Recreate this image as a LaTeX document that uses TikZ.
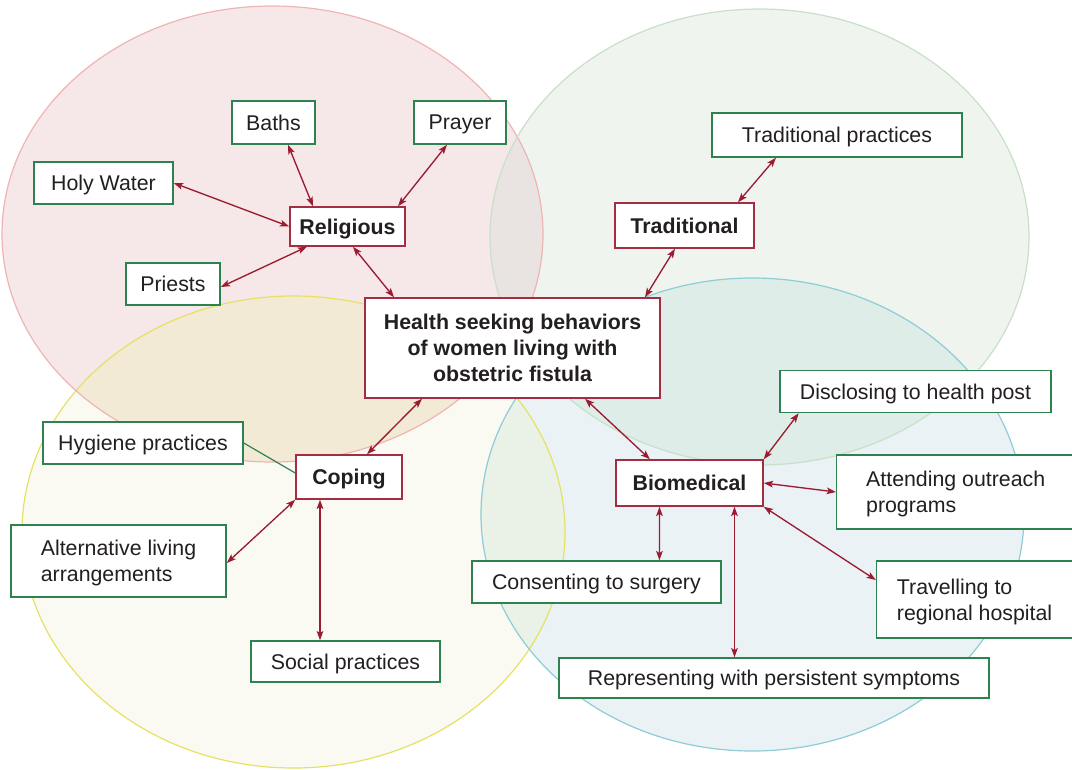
\documentclass[tikz,border=0pt]{standalone}
\usepackage{fontspec}
\setmainfont{Liberation Sans}
\usetikzlibrary{arrows.meta,calc}
\definecolor{txt}{RGB}{35,31,32}
\definecolor{rfill}{HTML}{F6E7E8}
\definecolor{gfill}{HTML}{EFF4EF}
\definecolor{yfill}{HTML}{FAFAF3}
\definecolor{bfill}{HTML}{EAF2F6}
\definecolor{rgfill}{HTML}{E9E4E1}
\definecolor{ryfill}{HTML}{F3EAD6}
\definecolor{gbfill}{HTML}{DEEDE8}
\definecolor{ybfill}{HTML}{EAF1E6}
\definecolor{rline}{HTML}{F0B4B4}
\definecolor{gline}{HTML}{C8E0C8}
\definecolor{yline}{HTML}{E6E164}
\definecolor{bline}{HTML}{8CCDD7}
\definecolor{gbord}{HTML}{2E8250}
\definecolor{rbord}{HTML}{A52D41}
\definecolor{arr}{HTML}{9B1B30}
\begin{document}
\begin{tikzpicture}[x=0.75pt,y=-0.75pt,
  every node/.style={font=\fontsize{16pt}{19.5pt}\selectfont, text=txt},
  box/.style={draw, fill=white, line width=1.1pt, inner sep=0pt, align=center},
  gbox/.style={box, draw=gbord, text depth=0pt},
  rbox/.style={box, draw=rbord, font=\fontsize{16pt}{19.5pt}\selectfont\bfseries},
  wh/.style 2 args={minimum width=#1*0.75pt, minimum height=#2*0.75pt},
  tipx/.tip={Stealth[length=7pt,width=5pt,inset=1.6pt]},
  link/.style={draw=arr, line width=1pt, tipx-tipx},
  plainlink/.style={draw=gbord, line width=0.9pt},
  ring/.style={line width=0.9pt},
]
\useasboundingbox (0,0) rectangle (1072,769);
% circles
\fill[rfill] (272.5,234) ellipse [x radius=270.5, y radius=228];
\fill[gfill] (759.5,237) ellipse [x radius=269.5, y radius=228];
\fill[yfill] (293.5,532) ellipse [x radius=271.5, y radius=236];
\fill[bfill] (752.5,514.5) ellipse [x radius=271.5, y radius=236.5];
\begin{scope}
  \clip (272.5,234) ellipse [x radius=270.5, y radius=228];
  \fill[rgfill] (759.5,237) ellipse [x radius=269.5, y radius=228];
  \fill[ryfill] (293.5,532) ellipse [x radius=271.5, y radius=236];
\end{scope}
\begin{scope}
  \clip (752.5,514.5) ellipse [x radius=271.5, y radius=236.5];
  \fill[gbfill] (759.5,237) ellipse [x radius=269.5, y radius=228];
  \fill[ybfill] (293.5,532) ellipse [x radius=271.5, y radius=236];
\end{scope}
\draw[ring, yline] (293.5,532) ellipse [x radius=271.5, y radius=236];
\draw[ring, bline] (752.5,514.5) ellipse [x radius=271.5, y radius=236.5];
\draw[ring, rline] (272.5,234) ellipse [x radius=270.5, y radius=228];
\draw[ring, gline] (759.5,237) ellipse [x radius=269.5, y radius=228];
% nodes
\node[gbox, wh={83}{43}] (baths) at (273.5,122.5) {Baths};
\node[gbox, wh={92}{43}] (prayer) at (460,122.5) {Prayer};
\node[gbox, wh={139}{42}] (holy) at (103.5,183) {Holy Water};
\node[rbox, wh={115}{39}, text depth=0pt] (rel) at (347.5,226.5) {Religious};
\node[gbox, wh={94}{42}] (priests) at (173,284) {Priests};
\node[gbox, wh={250}{44}] (tp) at (837,135) {Traditional practices};
\node[rbox, wh={139}{45}, text depth=0pt] (trad) at (684.5,225.5) {Traditional};
\node[rbox, wh={295}{100}] (central) at (512.5,348) {Health seeking behaviors\\of women living with\\obstetric fistula};
\node[gbox, wh={200}{42}] (hyg) at (143,443) {Hygiene practices};
\node[rbox, wh={106}{44}, text depth=0pt] (coping) at (349,477) {Coping};
\node[gbox, wh={215}{72}, align=left] (alt) at (118.5,561) {Alternative living\\arrangements};
\node[gbox, wh={189}{41}] (social) at (345.5,661.5) {Social practices};
\node[gbox, wh={271}{42}] (disc) at (915.5,391.5) {Disclosing to health post};
\node[rbox, wh={147}{46}, text depth=0pt] (bio) at (689.5,483) {Biomedical};
\node[gbox, wh={238}{74}, align=left] (att) at (955.7,492) {Attending outreach\\programs};
\node[gbox, wh={196}{77}, align=left] (trav) at (974.6,599.3) {Travelling to\\regional hospital};
\node[gbox, wh={249}{42}] (cons) at (596.4,582) {Consenting to surgery};
\node[gbox, wh={430}{40}] (rep) at (774,678) {Representing with persistent symptoms};
% connectors
\draw[link] ($(baths.south)+(14.5,0)$) -- ($(rel.north)+(-34.5,0)$);
\draw[link] ($(prayer.south)+(-13,0)$) -- ($(rel.north)+(50.5,0)$);
\draw[link] (holy.east) -- (rel.west);
\draw[link] ($(priests.east)+(0,3)$) -- ($(rel.south)+(-40.5,0)$);
\draw[link] ($(rel.south)+(5.5,0)$) -- ($(central.north)+(-118.5,0)$);
\draw[link] ($(tp.south)+(-61,0)$) -- ($(trad.north)+(53.5,0)$);
\draw[link] ($(trad.south)+(-9.5,0)$) -- ($(central.north)+(132.5,0)$);
\draw[link] ($(central.south)+(-90.5,0)$) -- ($(coping.north)+(18,0)$);
\draw[plainlink] (hyg.east) -- ($(coping.west)+(0,-4)$);
\draw[link] ($(alt.east)+(0,2)$) -- (coping.south west);
\draw[link] ($(coping.south)+(-29,0)$) -- ($(social.north)+(-25.5,0)$);
\draw[link] ($(central.south)+(72.5,0)$) -- ($(bio.north)+(-39.5,0)$);
\draw[link] (bio.north east) -- ($(disc.south)+(-116.8,0)$);
\draw[link] (bio.east) -- (att.west);
\draw[link] (bio.south east) -- ($(trav.west)+(0,-19.3)$);
\draw[link] ($(bio.south)+(-30,0)$) -- ($(cons.north)+(63,0)$);
\draw[link] ($(bio.south)+(45,0)$) -- ($(rep.north)+(-39.5,0)$);
\end{tikzpicture}
\end{document}
